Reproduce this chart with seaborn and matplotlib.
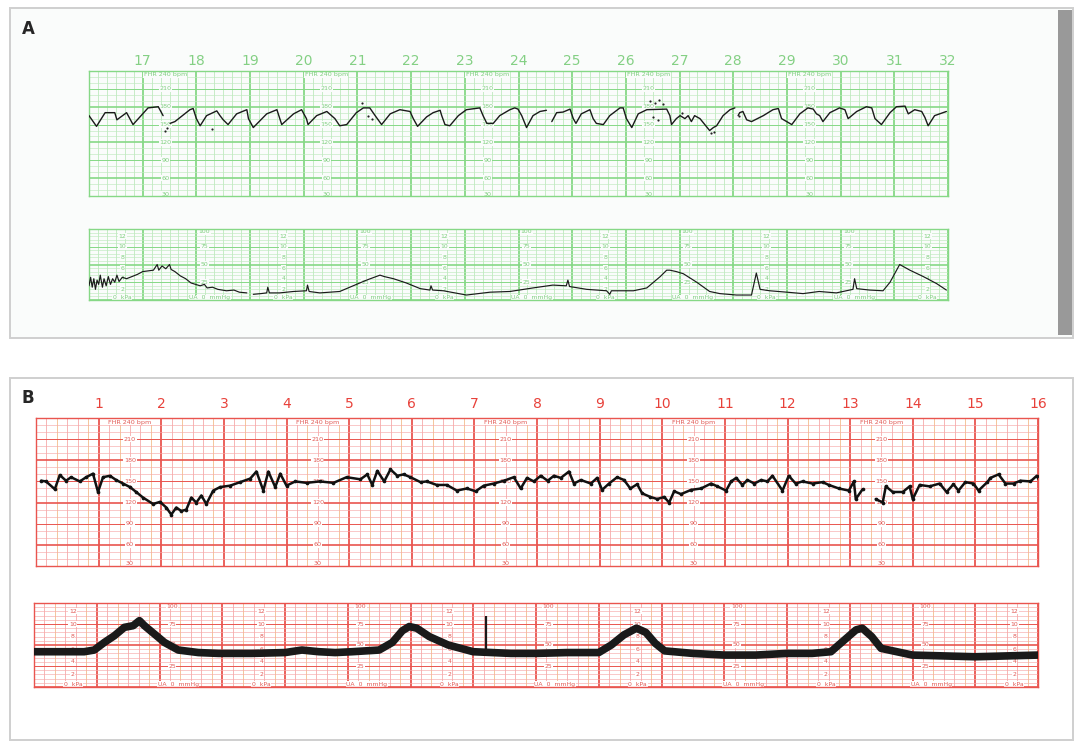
import numpy as np
import pandas as pd
import matplotlib
matplotlib.use("Agg")
import matplotlib.pyplot as plt
import matplotlib.patches as mpatches
import seaborn as sns

nan = np.nan

# ---------------- panel A : fetal heart rate (bpm), minutes 16-32 ----------------
fhr_a_t = [16.00, 16.14, 16.30, 16.48, 16.52, 16.70, 16.82, 17.10, 17.29, 17.38,
           nan, 17.51, 17.60, 17.88, 17.94, 18.00, 18.07, 18.19, 18.38, 18.44,
           18.50, 18.59, 18.75, 18.94, 18.97, 19.06, 19.31, 19.50, 19.59, 19.81,
           19.96, 20.05, 20.08, 20.24, 20.43, 20.58, 20.67, 20.80, 20.98, 21.11,
           21.23, 21.33, 21.45, 21.61, 21.79, 21.98, 22.04, 22.12, 22.29, 22.41,
           22.54, 22.57, 22.63, 22.72, 22.88, 23.03, 23.28, 23.34, 23.41, 23.53,
           23.65, 23.84, 23.93, 23.99, 24.06, 24.15, 24.27, 24.40, 24.52, nan,
           24.62, 24.71, 24.83, 24.96, 25.02, 25.07, 25.17, 25.33, 25.39, 25.45,
           25.58, 25.70, 25.89, 25.95, 26.01, 26.11, 26.23, 26.39, 26.76, 26.82,
           26.85, 26.94, 27.01, 27.10, 27.16, 27.22, 27.28, 27.38, 27.47, 27.56,
           27.63, 27.69, 27.81, 27.94, 28.03, nan, 28.09, 28.12, 28.18, 28.25,
           28.34, 28.56, 28.74, 28.84, 28.90, 29.09, 29.24, 29.39, 29.49, 29.55,
           29.61, 29.67, 29.80, 29.98, 30.08, 30.14, 30.30, 30.48, 30.58, 30.64,
           30.76, 30.92, 31.04, 31.20, 31.26, 31.38, 31.51, 31.57, 31.63, 31.75,
           31.97]
fhr_a_bpm = [165, 147, 170, 170, 158, 170, 150, 178, 180, 165,
             nan, 152, 155, 175, 177, 160, 148, 165, 173, 165,
             158, 150, 168, 175, 160, 145, 168, 175, 150, 168,
             175, 160, 150, 165, 172, 160, 148, 150, 170, 178,
             178, 165, 150, 168, 175, 172, 160, 147, 163, 170,
             174, 165, 150, 148, 165, 175, 178, 165, 152, 152,
             165, 175, 178, 176, 165, 145, 165, 172, 174, nan,
             155, 170, 171, 176, 160, 152, 168, 175, 160, 152,
             150, 165, 178, 178, 160, 145, 168, 175, 176, 165,
             150, 160, 165, 160, 165, 155, 165, 160, 150, 140,
             145, 148, 165, 175, 178, nan, 165, 170, 172, 158,
             155, 165, 175, 177, 160, 150, 168, 178, 176, 168,
             165, 155, 170, 178, 175, 160, 172, 180, 178, 160,
             150, 170, 180, 181, 168, 175, 172, 162, 148, 165,
             172]
# loose artefact dots on strip A
dot_a_t = [17.42, 17.45, 18.30, 21.08, 21.20, 21.27, 26.45, 26.55, 26.62, 26.70,
           26.50, 26.60, 27.05, 27.58, 27.65, 28.10]
dot_a_bpm = [140, 145, 142, 187, 165, 160, 190, 186, 192, 185,
             162, 158, 170, 136, 138, 165]

# ---------------- panel A : uterine activity (mmHg) ----------------
ua_a_t = [16.00, 16.03, 16.06, 16.09, 16.12, 16.15, 16.18, 16.21, 16.25, 16.28,
          16.32, 16.36, 16.40, 16.44, 16.48, 16.52, 16.56, 16.62, 16.70, 16.80,
          16.90, 17.00, 17.10, 17.20, 17.27, 17.30, 17.36, 17.43, 17.50, 17.53,
          17.60, 17.70, 17.80, 17.90, 18.07, 18.15, 18.20, 18.30, 18.40, 18.56,
          18.70, 18.80, 18.94, nan, 19.06, 19.20, 19.31, 19.33, 19.36, 19.55,
          19.81, 20.05, 20.07, 20.10, 20.30, 20.67, 20.92, 21.17, 21.42, 21.50,
          21.67, 21.91, 22.17, 22.35, 22.37, 22.40, 22.60, 23.03, 23.47, 23.84,
          24.27, 24.64, 24.89, 24.92, 24.95, 25.27, 25.64, 25.70, 25.73, 26.14,
          26.39, 26.64, 26.76, 26.82, 26.94, 27.07, 27.32, 27.56, 27.75, 28.06,
          28.34, 28.43, 28.50, 28.68, 29.00, 29.30, 29.60, 29.92, 30.23, 30.26,
          30.30, 30.54, 30.79, 30.92, 31.10, 31.29, 31.54, 31.79, 31.97]
ua_a_mmhg = [20, 32, 18, 30, 15, 28, 22, 35, 18, 30,
             20, 33, 22, 30, 25, 35, 26, 32, 30, 33,
             36, 40, 41, 42, 50, 42, 48, 44, 50, 43,
             40, 34, 30, 24, 20, 22, 17, 18, 15, 13,
             14, 11, 10, nan, 8, 9, 10, 18, 10, 10,
             12, 13, 21, 12, 10, 12, 20, 28, 35, 33,
             30, 24, 16, 14, 20, 14, 13, 7, 11, 12,
             17, 21, 20, 28, 19, 15, 13, 8, 13, 13,
             17, 33, 42, 42, 40, 37, 25, 12, 9, 7,
             7, 38, 15, 13, 11, 9, 12, 10, 15, 30,
             16, 14, 13, 25, 50, 42, 33, 23, 14]

# ---------------- panel B : fetal heart rate (bpm), minutes 0-16 ----------------
fhr_b_t = [0.08, 0.16, 0.30, 0.38, 0.48, 0.56, 0.70, 0.80, 0.91, 0.99,
           1.07, 1.18, 1.28, 1.39, 1.50, 1.60, 1.71, 1.87, 1.98, 2.08,
           2.16, 2.24, 2.32, 2.40, 2.48, 2.56, 2.64, 2.72, 2.83, 2.94,
           3.10, 3.26, 3.42, 3.52, 3.63, 3.71, 3.82, 3.90, 4.00, 4.14,
           4.32, 4.53, 4.75, 4.96, 5.18, 5.29, 5.37, 5.45, 5.56, 5.66,
           5.77, 5.87, 5.98, 6.14, 6.24, 6.40, 6.56, 6.72, 6.88, 7.02,
           7.15, 7.31, 7.47, 7.63, 7.74, 7.84, 7.95, 8.06, 8.17, 8.27,
           8.38, 8.51, 8.59, 8.70, 8.86, 8.96, 9.04, 9.15, 9.28, 9.39,
           9.49, 9.60, 9.68, 9.81, 9.92, 10.03, 10.11, 10.19, 10.30, 10.46,
           10.62, 10.78, 10.88, 11.02, 11.10, 11.18, 11.28, 11.36, 11.47, 11.58,
           11.68, 11.76, 11.92, 12.02, 12.13, 12.24, 12.40, 12.56, 12.66, 12.82,
           12.98, 13.06, 13.09, 13.20, nan, 13.41, 13.52, 13.57, 13.68, 13.84,
           13.95, 14.00, 14.11, 14.27, 14.43, 14.54, 14.65, 14.73, 14.84, 14.97,
           15.05, 15.19, 15.24, 15.37, 15.48, 15.61, 15.72, 15.88, 15.98, 16.06]
fhr_b_bpm = [151, 150, 139, 159, 151, 156, 150, 156, 161, 135,
             156, 158, 152, 147, 142, 135, 127, 118, 121, 113,
             103, 113, 108, 110, 127, 120, 130, 118, 137, 142,
             144, 149, 154, 164, 137, 164, 142, 161, 144, 150,
             148, 150, 148, 156, 153, 160, 145, 165, 150, 167,
             158, 160, 156, 149, 150, 145, 145, 137, 140, 136,
             144, 147, 151, 156, 140, 155, 150, 158, 151, 158,
             155, 164, 147, 152, 147, 155, 138, 147, 156, 152,
             140, 146, 133, 128, 125, 128, 120, 136, 132, 138,
             140, 147, 143, 137, 150, 155, 145, 152, 147, 152,
             150, 158, 137, 158, 147, 150, 147, 149, 145, 140,
             137, 150, 125, 139, nan, 125, 120, 143, 135, 135,
             143, 125, 145, 143, 147, 135, 146, 137, 149, 147,
             137, 149, 155, 160, 147, 147, 151, 150, 158, 145]

# ---------------- panel B : uterine activity (mmHg) ----------------
ua_b_t = [0.00, 0.27, 0.43, 0.80, 0.96, 1.12, 1.28, 1.44, 1.58, 1.68,
          1.76, 1.92, 2.08, 2.30, 2.62, 2.94, 3.47, 4.00, 4.27, 4.54,
          4.80, 5.07, 5.50, 5.71, 5.87, 5.98, 6.10, 6.30, 6.60, 7.00,
          7.60, 8.00, 8.50, 9.00, 9.20, 9.40, 9.60, 9.75, 9.90, 10.05,
          10.50, 11.00, 11.50, 12.00, 12.40, 12.70, 12.90, 13.10, 13.20, 13.35,
          13.50, 14.00, 14.50, 15.00, 15.50, 16.00]
ua_b_mmhg = [42, 42, 42, 42, 44, 53, 61, 71, 73, 79,
             73, 63, 53, 44, 41, 40, 40, 41, 44, 42,
             41, 42, 44, 53, 67, 72, 70, 60, 50, 42,
             40, 40, 41, 41, 50, 62, 70, 65, 52, 43,
             40, 38, 38, 40, 40, 42, 55, 68, 70, 60,
             46, 38, 37, 36, 37, 38]
spike_b_t = [7.21]
spike_b_top = [85]

# scale print on the paper
fhr_scale = [210, 180, 150, 120, 90, 60]
ua_mmhg_scale = [75, 50, 25]
ua_kpa_scale = ['12', '10', '8', '6', '4', '2']
ua_kpa_pos = [90, 75, 60, 45, 30, 15]

W, H = 1084, 748

sns.set_theme(style="white")
plt.rcParams['font.family'] = ['DejaVu Sans']

fig = plt.figure(figsize=(W / 100, H / 100), dpi=100)
fig.patch.set_facecolor('white')


def px_axes(left, top, right, bottom):
    return fig.add_axes([left / W, 1 - bottom / H, (right - left) / W, (bottom - top) / H])


def frame(left, top, right, bottom, face, edge='#cfcfcf'):
    r = mpatches.Rectangle((left / W, 1 - bottom / H), (right - left) / W, (bottom - top) / H,
                           transform=fig.transFigure, facecolor=face, edgecolor=edge, lw=1.4, zorder=0)
    fig.add_artist(r)


def trace_df(t, v):
    df = pd.DataFrame({'t': t, 'v': v})
    df['seg'] = df['v'].isna().cumsum()
    return df.dropna()


def paper(ax, x0, x1, y0, y1, hsteps, colors, face):
    major, minor, alt = colors
    ax.set_facecolor(face)
    minor_t = np.arange(x0, x1 + 1e-6, 1 / 6)
    for i, t in enumerate(minor_t):
        if i % 6 == 0:
            ax.axvline(t, color=major, lw=1.3, zorder=0)
        else:
            c = alt if (alt and i % 3 == 2) else minor
            ax.axvline(t, color=c, lw=0.6, zorder=0)
    step_min, step_mid, step_max = hsteps
    for v in np.arange(y0, y1 + 1e-6, step_min):
        if abs(v % step_max) < 1e-6:
            ax.axhline(v, color=major, lw=1.2, zorder=0)
        elif abs(v % step_mid) < 1e-6:
            ax.axhline(v, color=major, lw=0.7, zorder=0)
        else:
            ax.axhline(v, color=minor, lw=0.45, zorder=0)
    ax.set_xlim(x0, x1)
    ax.set_ylim(y0, y1)
    ax.set_xticks([])
    ax.set_yticks([])
    ax.set_xlabel('')
    ax.set_ylabel('')
    for s in ax.spines.values():
        s.set_color(major)
        s.set_linewidth(1.0)


def fhr_print(ax, cols, color, face):
    box = dict(facecolor=face, edgecolor='none', pad=0.4)
    for c in cols:
        ax.text(c, 234, 'FHR 240 bpm', ha='center', va='center', fontsize=4.6, color=color, bbox=box, zorder=1)
        for v in fhr_scale:
            ax.text(c, v, str(v), ha='center', va='center', fontsize=4.6, color=color, bbox=box, zorder=1)
        ax.text(c, 33, '30', ha='center', va='center', fontsize=4.6, color=color, bbox=box, zorder=1)


def ua_print(ax, kpa_cols, mmhg_cols, color, face):
    box = dict(facecolor=face, edgecolor='none', pad=0.4)
    for c in kpa_cols:
        for lab, v in zip(ua_kpa_scale, ua_kpa_pos):
            ax.text(c, v, lab, ha='center', va='center', fontsize=4.4, color=color, bbox=box, zorder=1)
        ax.text(c, 3, '0  kPa', ha='center', va='center', fontsize=4.4, color=color, bbox=box, zorder=1)
    for c in mmhg_cols:
        ax.text(c, 96, '100', ha='center', va='center', fontsize=4.4, color=color, bbox=box, zorder=1)
        for v in ua_mmhg_scale:
            ax.text(c, v, str(v), ha='center', va='center', fontsize=4.4, color=color, bbox=box, zorder=1)
        ax.text(c + 0.1, 3, 'UA  0  mmHg', ha='center', va='center', fontsize=4.4, color=color, bbox=box, zorder=1)


# ---------------- frames ----------------
frame(10, 8, 1073, 338, '#fafcfb')
fig.add_artist(mpatches.Rectangle((1058 / W, 1 - 335 / H), 14 / W, 325 / H,
                                  transform=fig.transFigure, facecolor='#999999', edgecolor='none'))
frame(10, 378, 1073, 740, '#ffffff')
fig.text(28 / W, 1 - 29 / H, 'A', fontsize=12, fontweight='bold', ha='center', va='center')
fig.text(28 / W, 1 - 398 / H, 'B', fontsize=12, fontweight='bold', ha='center', va='center')

green = ('#86d886', '#bfeabf', None)
green_txt = '#7fcf7f'
red = ('#e9554f', '#f6a9a9', '#f4bd8c')
red_txt = '#e25a55'
face_a = '#fafcfb'

# ---------------- A : FHR ----------------
ax = px_axes(89, 71, 948, 196)
df = trace_df(fhr_a_t, fhr_a_bpm)
sns.lineplot(data=df, x='t', y='v', units='seg', estimator=None, sort=False,
             color='#1a1a1a', lw=1.0, ax=ax, legend=False, zorder=5)
sns.scatterplot(x=dot_a_t, y=dot_a_bpm, color='#222222', s=2.5, linewidth=0, ax=ax, zorder=5)
paper(ax, 16, 32, 30, 240, (10, 30, 60), green, face_a)
fhr_print(ax, [17.42, 20.42, 23.42, 26.42, 29.42], green_txt, face_a)
for m in range(17, 33):
    ax.text(m, 1.025, str(m), transform=ax.get_xaxis_transform(), ha='center', va='bottom',
            fontsize=10, color='#84d084')

# ---------------- A : UA ----------------
ax = px_axes(89, 229, 948, 300)
df = trace_df(ua_a_t, ua_a_mmhg)
sns.lineplot(data=df, x='t', y='v', units='seg', estimator=None, sort=False,
             color='#1a1a1a', lw=0.85, ax=ax, legend=False, zorder=5)
paper(ax, 16, 32, 0, 100, (5, 25, 50), green, face_a)
ua_print(ax, [16.62 + 3 * k for k in range(6)], [18.15 + 3 * k for k in range(5)], green_txt, face_a)

# ---------------- B : FHR ----------------
ax = px_axes(36, 418, 1038, 566)
df = trace_df(fhr_b_t, fhr_b_bpm)
sns.lineplot(data=df, x='t', y='v', units='seg', estimator=None, sort=False,
             color='#111111', lw=1.8, ax=ax, legend=False, zorder=5)
sns.scatterplot(data=df, x='t', y='v', color='#111111', s=7, linewidth=0, ax=ax, zorder=5)
paper(ax, 0, 16, 30, 240, (10, 30, 60), red, '#ffffff')
fhr_print(ax, [1.5, 4.5, 7.5, 10.5, 13.5], red_txt, '#ffffff')
for m in range(1, 17):
    ax.text(m, 1.045, str(m), transform=ax.get_xaxis_transform(), ha='center', va='bottom',
            fontsize=10, color='#e8413a')

# ---------------- B : UA ----------------
ax = px_axes(34, 603, 1038, 687)
df = trace_df(ua_b_t, ua_b_mmhg)
sns.lineplot(data=df, x='t', y='v', units='seg', estimator=None, sort=False,
             color='#1a1a1a', lw=5.5, ax=ax, legend=False, zorder=5)
ax.vlines(spike_b_t, 38, spike_b_top, color='#1a1a1a', lw=1.6, zorder=5)
paper(ax, 0, 16, 0, 100, (5, 25, 50), red, '#ffffff')
ua_print(ax, [0.62 + 3 * k for k in range(6)], [2.2 + 3 * k for k in range(5)], red_txt, '#ffffff')

fig.savefig('out.png', dpi=100)
